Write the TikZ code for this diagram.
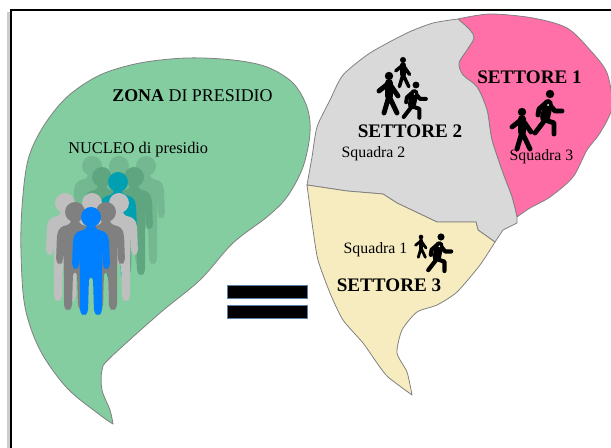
\documentclass[tikz,border=0pt]{standalone}
\usepackage{fontspec}
\setmainfont{Liberation Serif}
\usetikzlibrary{positioning}
\definecolor{zonagreen}{HTML}{84CDA1}
\definecolor{pink1}{HTML}{FF6FA8}
\definecolor{gray2}{HTML}{D9D9D9}
\definecolor{yellow3}{HTML}{F6ECC0}
\definecolor{teal1}{HTML}{00A0B2}
\definecolor{rear1}{HTML}{74B892}
\definecolor{rear2}{HTML}{5FA680}
\definecolor{blue1}{HTML}{0080FF}
\tikzset{
  area/.style={draw=black!50,line width=0.45pt,line join=round},
  titlelab/.style={inner sep=0pt,font=\fontsize{10.9}{13}\selectfont\bfseries},
  lab/.style={inner sep=0pt,font=\fontsize{9}{10}\selectfont},
  person/.pic={
    \fill[#1] (0,0) circle (10);
    \fill[#1,rounded corners=2] (-4,7) -- (4,7) -- (4,12) -- (15,15) -- (18,22) -- (19,50) -- (15,53) -- (12,50)
      -- (12,28) -- (11,60) -- (11,96) -- (7,99) -- (3,96) -- (2,60) -- (-2,60) -- (-3,96) -- (-7,99) -- (-11,96)
      -- (-11,60) -- (-12,28) -- (-12,50) -- (-15,53) -- (-19,50) -- (-18,22) -- (-15,15) -- (-4,12) -- cycle;
  },
  walker/.pic={
    \fill[black] (0,0) circle (4.2);
    \draw[black,line width=#1,line cap=round,line join=round] (-10,15) -- (0,7) -- (9,20);
    \draw[black,line width=#1*1.6,line cap=round,line join=round] (0,7) -- (0,20);
    \draw[black,line width=#1,line cap=round,line join=round] (-5,37) -- (0,20) -- (8,37);
  },
  runner/.pic={
    \fill[black] (0,0) circle (4.2);
    \draw[black,line width=#1,line cap=round,line join=round] (-12,21) -- (-11,15) -- (-3,8) -- (5,17) -- (12,17);
    \draw[black,line width=#1*2,line cap=round,line join=round] (-2,10) -- (-5,24);
    \draw[black,line width=#1,line cap=round,line join=round] (-15,39) -- (-5,26) -- (4,29) -- (4,40);
    \fill[white] (-2,11) circle (1);
  },
}
\begin{document}
\begin{tikzpicture}[x=0.02cm,y=-0.02cm]

  \useasboundingbox (0,0) rectangle (611,448);
  % frame
  \draw[black!20,line width=1.2pt] (8.5,12) -- (8.5,448);
  \draw[black,line width=1.1pt] (611,10) -- (11,10) -- (11,448);

  % zona
  \draw[area,fill=zonagreen] plot[smooth,tension=0.55] coordinates {(113,424) (100,415) (67,388) (40,350) (25,307) (21,253) (22,207) (28,160) (43,127) (67,97) (100,75) (140,63) (187,58) (233,60) (267,67) (293,83) (307,107) (310,133) (303,167) (287,197) (267,217) (233,243) (200,280) (160,313) (110,358) (102,370) (102,390) (110,410) (113,424)} -- cycle;

  % nucleo
  \foreach \px/\py in {92/166,119/166,146/166} \path (\px,\py) pic {person=rear1};
  \foreach \px/\py in {102/177,134/177} \path (\px,\py) pic {person=rear2};
  \path (118,182) pic {person=teal1};
  \foreach \px/\py in {65/203,92/203,119/203} \path (\px,\py) pic {person=black!25};
  \foreach \px/\py in {75/212,106/212} \path (\px,\py) pic {person=black!50};
  \path (91,217) pic {person=blue1};

  % settori
  \draw[area,fill=pink1] plot[smooth,tension=0.5] coordinates {(458,19) (490,14) (533,18) (567,28) (590,50) (607,73) (612,107) (600,133) (587,150) (573,177) (550,197) (530,208) (517,217)} -- plot[smooth,tension=0.5] coordinates {(517,217) (512,197) (503,173) (492,140) (487,110) (477,87) (463,75) (459,63) (467,50) (474,38) (470,30) (458,19)} -- cycle;
  \draw[area,fill=gray2] plot[smooth,tension=0.4] coordinates {(458,19) (433,23) (407,33) (370,53) (343,75) (330,100) (317,127) (312,157) (307,185)} -- (347,191) -- (383,194) -- (397,203) -- (437,222) -- (476,222) -- (478,230) -- (495,242) -- (503,230) -- (517,223) -- (517,217) -- plot[smooth,tension=0.5] coordinates {(517,217) (512,197) (503,173) (492,140) (487,110) (477,87) (463,75) (459,63) (467,50) (474,38) (470,30) (458,19)} -- cycle;
  \draw[area,fill=yellow3] (307,185) -- (347,191) -- (383,194) -- (397,203) -- (437,222) -- (476,222) -- (478,230) -- (495,242) -- plot[smooth,tension=0.4] coordinates {(495,242) (480,265) (457,292) (437,305) (417,312) (402,330) (397,353) (407,372) (412,395)} -- plot[smooth,tension=0.4] coordinates {(412,395) (388,377) (377,363) (363,343) (343,320) (330,293) (318,260) (313,230) (307,185)} -- cycle;

  % uguale
  \draw[draw=blue1!30!gray,fill=black,line width=0.4pt] (227.5,285.5) rectangle (307,298);
  \draw[draw=blue1!30!gray,fill=black,line width=0.4pt] (227.5,305) rectangle (307,318);

  % sagome
  \path (389,76) pic {walker=2.8pt};
  \path (403,60) pic[scale=0.72] {walker=2pt};
  \path (416,85) pic[scale=0.82] {runner=2.3pt};
  \path (550,94) pic {runner=2.8pt};
  \path (522,112) pic {walker=2.8pt};
  \path (421,237) pic[scale=0.55] {walker=1.6pt};
  \path (441,237) pic[scale=0.85] {runner=2.4pt};

  % testi
  \node[anchor=west,inner sep=0pt,font=\fontsize{10.2}{12}\selectfont] (zona) at (112,96) {\textbf{ZONA} DI PRESIDIO};
  \node[anchor=west,inner sep=0pt,font=\fontsize{9.3}{11}\selectfont] (nucleo) at (68,150) {NUCLEO di presidio};
  \node[titlelab] (settore1) at (529.5,77) {SETTORE 1};
  \node[titlelab] (settore2) at (410,131) {SETTORE 2};
  \node[titlelab] (settore3) at (389,285) {SETTORE 3};
  \node[lab] (squadra2) at (373.5,154) {Squadra 2};
  \node[lab] (squadra3) at (541.5,157) {Squadra 3};
  \node[lab] (squadra1) at (375.5,250) {Squadra 1};

\end{tikzpicture}
\end{document}
